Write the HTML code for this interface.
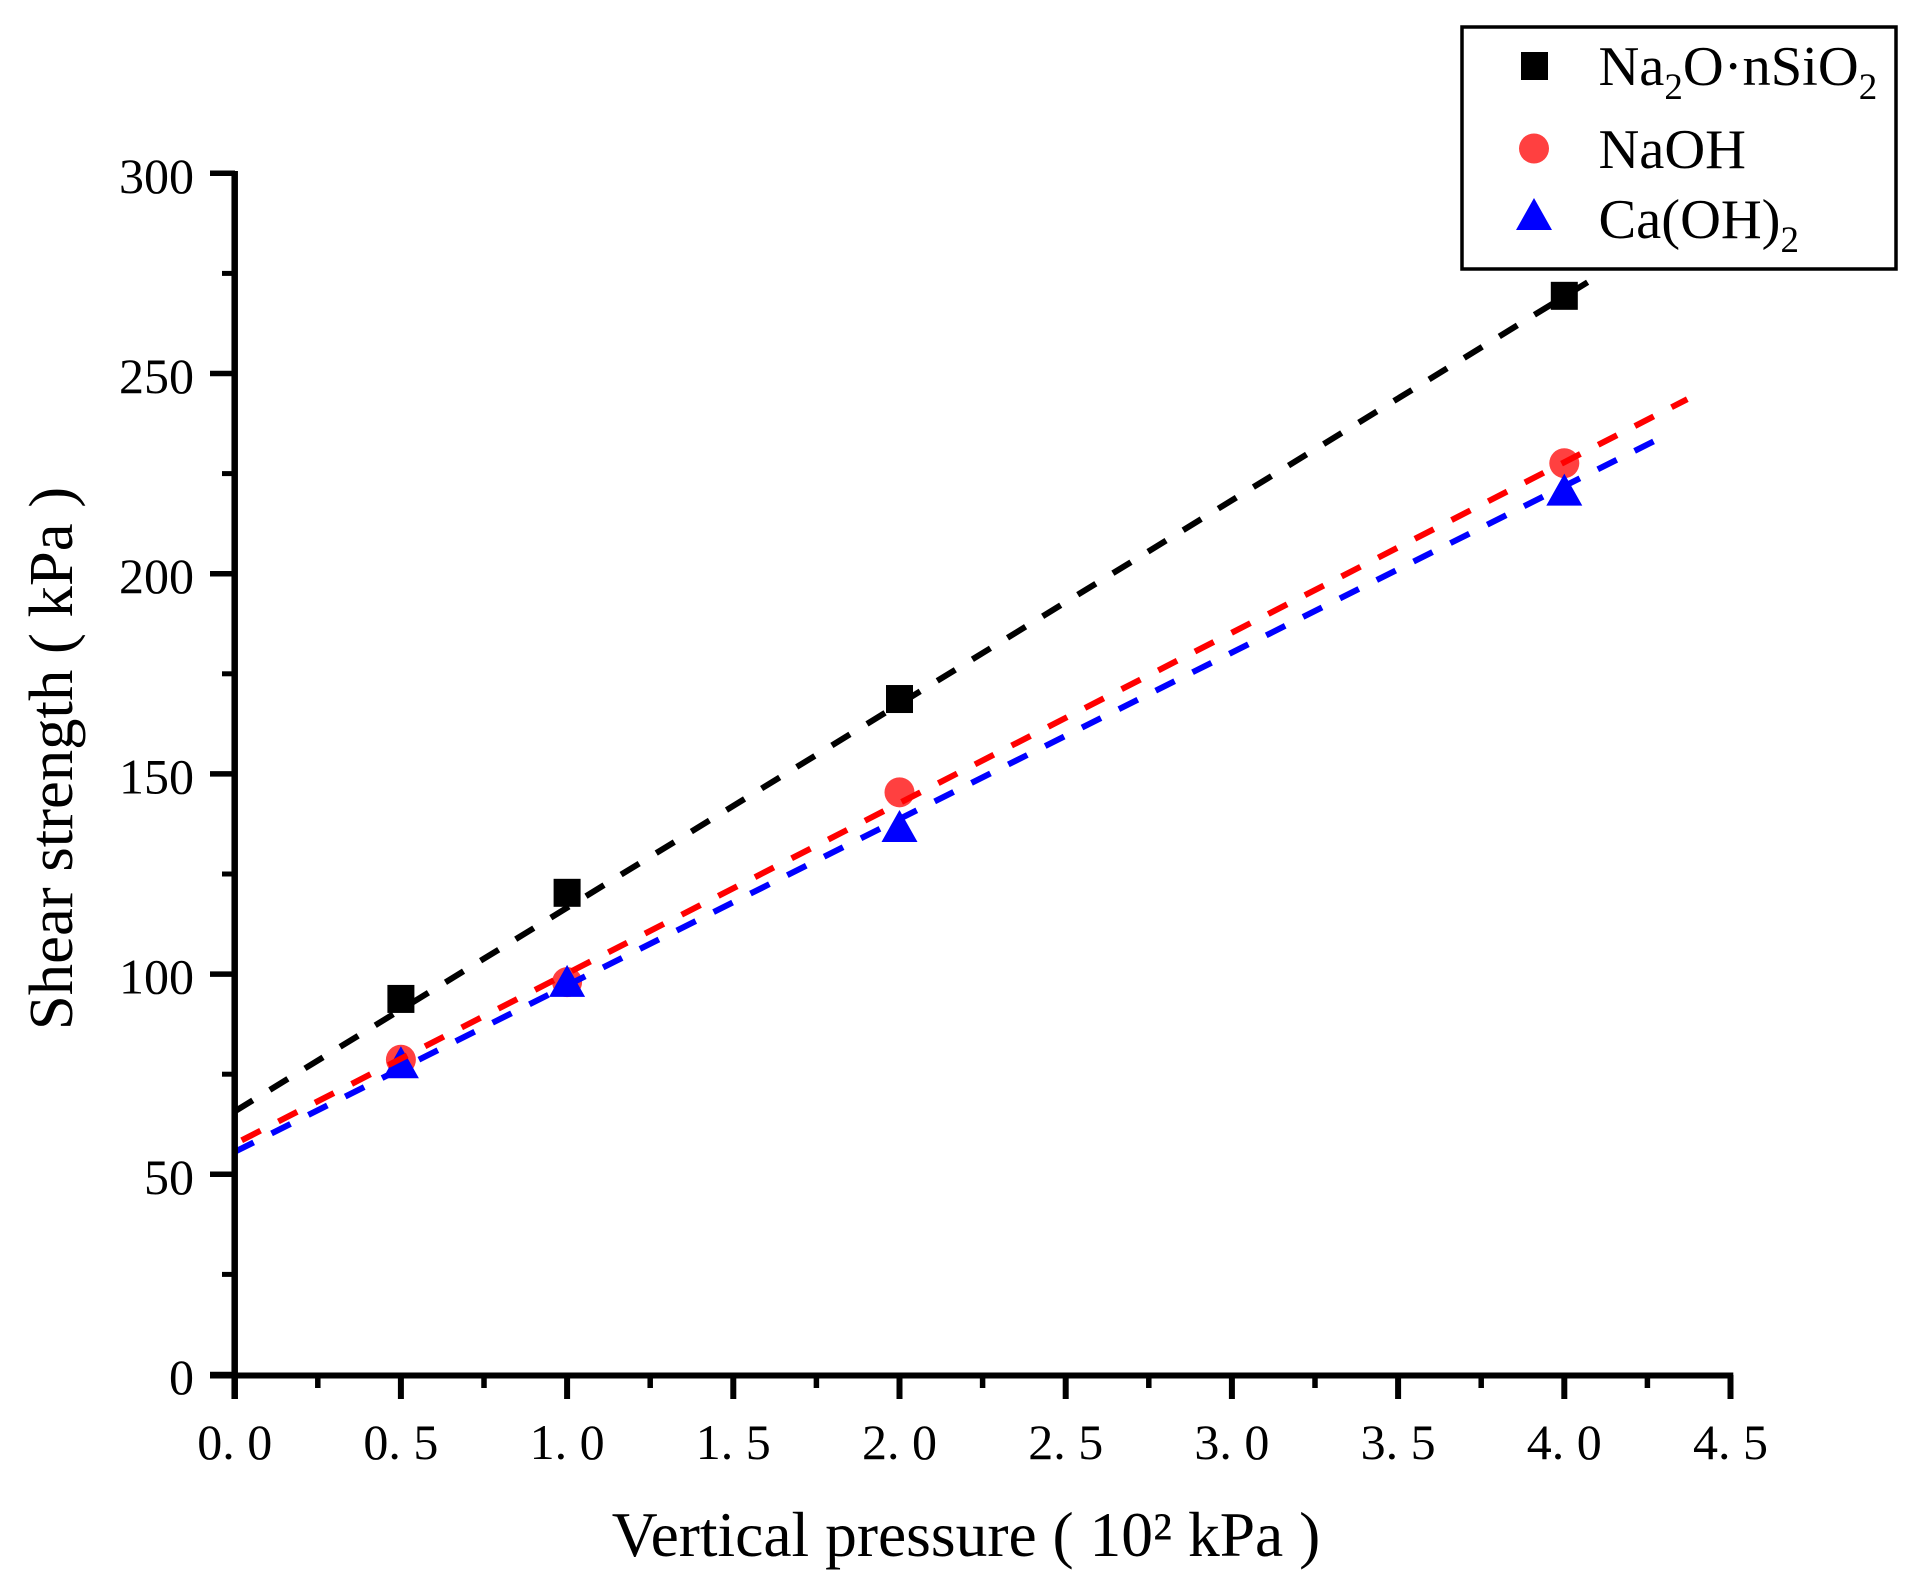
<!DOCTYPE html>
<html lang="en">
<head>
<meta charset="utf-8">
<title>Shear strength vs vertical pressure</title>
<style>
  html, body { margin: 0; padding: 0; background: #fff; }
  svg { display: block; font-family: "Liberation Serif", serif; fill: #000; }
</style>
</head>
<body>
<svg id="chart" xmlns="http://www.w3.org/2000/svg" width="1920" height="1586" viewBox="0 0 1920 1586">
  <rect x="0" y="0" width="1920" height="1586" fill="#fff"/>
  <g id="marks"></g>
  <g id="fits"></g>
  <g id="axes"></g>
  <text x="966" y="1556" font-size="63.5" text-anchor="middle">Vertical pressure ( 10² kPa )</text>
  <text transform="translate(72 758.5) rotate(-90)" font-size="62.7" text-anchor="middle">Shear strength ( kPa )</text>
  <g>
    <rect x="1462" y="27" width="434" height="242" fill="#fff" stroke="#000" stroke-width="3.5"/>
    <g>
      <rect x="1521" y="52" width="27" height="28" fill="#000"/>
      <text x="1598.5" y="85" font-size="56.5">Na<tspan font-size="37" dy="14">2</tspan><tspan dy="-14">O·nSiO</tspan><tspan font-size="37" dy="14">2</tspan></text>
    </g>
    <g>
      <circle cx="1534" cy="148.5" r="15" fill="#ff4040"/>
      <text x="1598.5" y="168" font-size="56.5">NaOH</text>
    </g>
    <g>
      <polygon points="1534,198 1552,230 1516,230" fill="#0000ff"/>
      <text x="1598.5" y="238" font-size="56.5">Ca(OH)<tspan font-size="37" dy="14">2</tspan></text>
    </g>
  </g>
</svg>
<script>
// Chart data
const pressures = [0.5, 1, 2, 4];
const sodiumSilicate = [93.8, 120.3, 168.7, 269.4];
const sodiumHydroxide = [78.6, 98, 145.4, 227.6];
const calciumHydroxide = [78, 98.3, 137, 221];

const fitSlopes = [50.88, 42.56, 41.57];
const fitIntercepts = [65.7, 57.6, 55.6];
const fitStarts = [0, 0.021, 0];
const fitEnds = [4.082, 4.37, 4.28];
const fitNames = ['na2o-nsio2', 'naoh', 'caoh2'];
const fitColors = ['#000000', '#ff0000', '#0000ff'];

const xMajorTicks = ['0.0', '0.5', '1.0', '1.5', '2.0', '2.5', '3.0', '3.5', '4.0', '4.5'];
const xMinorTicks = [0.25, 0.75, 1.25, 1.75, 2.25, 2.75, 3.25, 3.75, 4.25];
const yMajorTicks = [0, 50, 100, 150, 200, 250, 300];
const yMinorTicks = [25, 75, 125, 175, 225, 275];

// Axis functions
const xPos = v => 234.7 + v * 332.4;
const yPos = v => 1374.5 - v * 4.004;

const NS = 'http://www.w3.org/2000/svg';
const marks = document.getElementById('marks');
const fits = document.getElementById('fits');
const axes = document.getElementById('axes');

function make(tag, parent, attrs) {
  const el = document.createElementNS(NS, tag);
  for (const k in attrs) el.setAttribute(k, attrs[k]);
  parent.appendChild(el);
  return el;
}

// Markers
pressures.forEach((p, i) => {
  const sx = xPos(p);
  const sy = yPos(sodiumSilicate[i]);
  const square = make('rect', marks, { x: sx - 13.5, y: sy - 14, width: 27, height: 28, fill: '#000' });
  
  
});
pressures.forEach((p, i) => {
  const circle = make('circle', marks, { cx: xPos(p), cy: yPos(sodiumHydroxide[i]), r: 15, fill: '#ff4040' });
  
  
});
pressures.forEach((p, i) => {
  const tx = xPos(p);
  const ty = yPos(calciumHydroxide[i]);
  const points = [tx, ty - 16, tx + 18, ty + 16, tx - 18, ty + 16].join(' ');
  const triangle = make('polygon', marks, { points: points, fill: '#0000ff' });
  
  
});

// Fit lines
fitSlopes.forEach((m, i) => {
  const a = fitStarts[i];
  const b = fitEnds[i];
  const line = make('line', fits, {
    x1: xPos(a), y1: yPos(fitIntercepts[i] + m * a),
    x2: xPos(b), y2: yPos(fitIntercepts[i] + m * b),
    stroke: fitColors[i], 'stroke-width': 6, 'stroke-dasharray': '21.2 20'
  });
  
  
});

// Axes
const yAxisLine = make('line', axes, { x1: 234.7, y1: 171, x2: 234.7, y2: 1399, stroke: '#000', 'stroke-width': 6.5 });


const xAxisLine = make('line', axes, { x1: 210, y1: 1375.5, x2: 1733.3, y2: 1375.5, stroke: '#000', 'stroke-width': 6 });



xMajorTicks.forEach(label => {
  const x = xPos(parseFloat(label));
  const tick = make('line', axes, { x1: x, y1: 1375, x2: x, y2: 1399, stroke: '#000', 'stroke-width': 6 });
  
  
  const text = make('text', axes, { x: x, y: 1459, 'font-size': 50, 'text-anchor': 'middle' });
  text.textContent = label.replace('.', '. ');
  
  
});
xMinorTicks.forEach(v => {
  const x = xPos(v);
  const tick = make('line', axes, { x1: x, y1: 1375, x2: x, y2: 1388, stroke: '#000', 'stroke-width': 5.5 });
  
  
});
yMajorTicks.forEach(v => {
  const y = yPos(v);
  const tick = make('line', axes, { x1: 210, y1: y, x2: 235, y2: y, stroke: '#000', 'stroke-width': 5.5 });
  
  
  const text = make('text', axes, { x: 194, y: y + 19.5, 'font-size': 50, 'text-anchor': 'end' });
  text.textContent = String(v);
  
  
});
yMinorTicks.forEach(v => {
  const y = yPos(v);
  const tick = make('line', axes, { x1: 222, y1: y, x2: 235, y2: y, stroke: '#000', 'stroke-width': 5 });
  
  
});
</script>
</body>
</html>
